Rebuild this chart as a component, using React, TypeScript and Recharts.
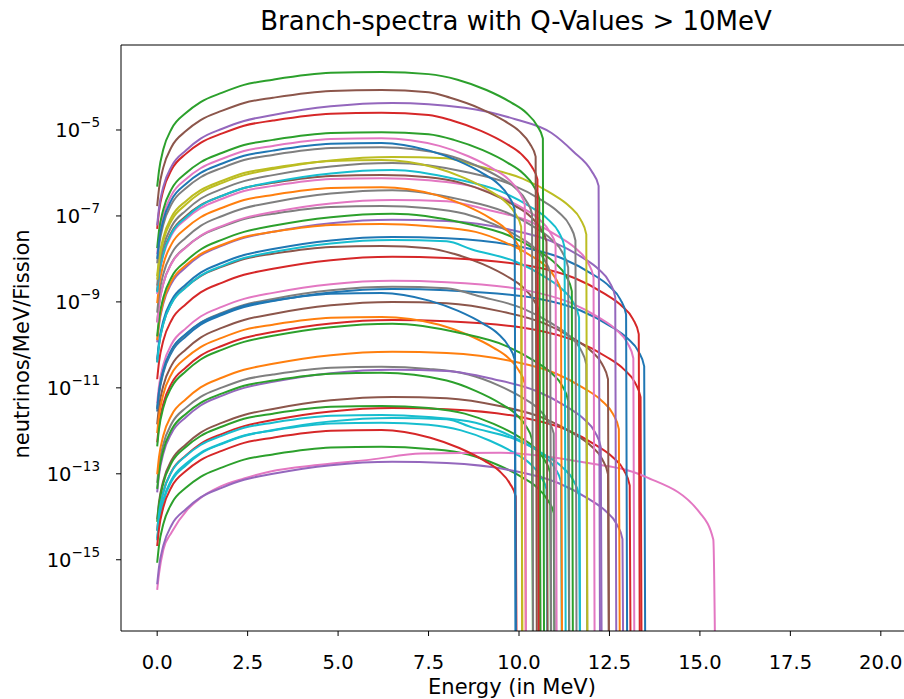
import React from 'react';
import { LineChart, Line, XAxis, YAxis, ReferenceLine } from 'recharts';

// each point: [energy in MeV, log10(neutrinos/MeV/Fission)]; -20 = spectrum ended
type Pt = [number, number];

const C = {
  blue: '#1f77b4', orange: '#ff7f0e', green: '#2ca02c', red: '#d62728', purple: '#9467bd',
  brown: '#8c564b', pink: '#e377c2', gray: '#7f7f7f', olive: '#bcbd22', cyan: '#17becf',
};

const xTicks = [0, 2.5, 5, 7.5, 10, 12.5, 15, 17.5, 20];
const yTicks = [1e-15, 1e-13, 1e-11, 1e-9, 1e-7, 1e-5];
const yDomain = [2.2e-17, 9.5e-4];

const br01: Pt[] = [[0,-6.32],[0.05,-5.95],[0.17,-5.45],[0.4,-4.97],[0.8,-4.6],[1.2,-4.35],[1.8,-4.13],[2.4,-3.95],[3.2,-3.83],[4.8,-3.67],[6.2,-3.65],[7.5,-3.7],[8.3,-3.83],[9.1,-4.07],[9.8,-4.37],[10.2,-4.6],[10.5,-4.9],[10.66,-5.2],[10.7,-20]];
const br02: Pt[] = [[0,-6.77],[0.05,-6.37],[0.17,-5.87],[0.4,-5.39],[0.8,-5.02],[1.2,-4.77],[1.8,-4.55],[2.4,-4.37],[3.2,-4.25],[4.8,-4.09],[6.2,-4.07],[7.5,-4.12],[8.1,-4.25],[8.9,-4.49],[9.6,-4.79],[10.0,-5.02],[10.3,-5.32],[10.46,-5.62],[10.5,-20]];
const br03: Pt[] = [[0,-7.22],[0.05,-6.82],[0.17,-6.32],[0.4,-5.84],[0.8,-5.47],[1.2,-5.2],[1.8,-4.97],[2.4,-4.79],[3.2,-4.65],[4.8,-4.45],[6.5,-4.37],[8.5,-4.48],[9.9,-4.75],[10.9,-5.07],[11.5,-5.5],[12.0,-5.95],[12.2,-6.3],[12.25,-20]];
const br04: Pt[] = [[0,-7.3],[0.05,-6.9],[0.17,-6.4],[0.4,-5.92],[0.8,-5.55],[1.2,-5.3],[1.8,-5.08],[2.4,-4.9],[3.2,-4.78],[4.8,-4.62],[6.2,-4.6],[7.5,-4.65],[8.15,-4.78],[8.95,-5.02],[9.65,-5.32],[10.05,-5.55],[10.35,-5.85],[10.51,-6.15],[10.55,-20]];
const br05: Pt[] = [[0,-7.75],[0.05,-7.35],[0.17,-6.85],[0.4,-6.37],[0.8,-6.0],[1.2,-5.75],[1.8,-5.53],[2.4,-5.35],[3.2,-5.23],[4.8,-5.07],[6.2,-5.05],[7.5,-5.1],[8.2,-5.23],[9.0,-5.47],[9.7,-5.77],[10.1,-6.0],[10.4,-6.3],[10.56,-6.6],[10.6,-20]];
const br06: Pt[] = [[0,-7.89],[0.05,-7.49],[0.17,-6.99],[0.4,-6.51],[0.8,-6.14],[1.2,-5.89],[1.8,-5.67],[2.4,-5.49],[3.2,-5.37],[4.8,-5.21],[6.2,-5.19],[7.8,-5.37],[8.6,-5.61],[9.3,-5.91],[9.7,-6.14],[10.0,-6.44],[10.16,-6.74],[10.2,-20]];
const br07: Pt[] = [[0,-8.0],[0.05,-7.6],[0.17,-7.1],[0.4,-6.62],[0.8,-6.25],[1.2,-6.0],[1.8,-5.78],[2.4,-5.6],[3.2,-5.48],[4.8,-5.32],[6.2,-5.3],[7.52,-5.48],[8.32,-5.72],[9.02,-6.02],[9.42,-6.25],[9.72,-6.55],[9.88,-6.85],[9.92,-20]];
const br08: Pt[] = [[0,-8.1],[0.05,-7.7],[0.17,-7.2],[0.4,-6.72],[0.8,-6.35],[1.2,-6.1],[1.8,-5.88],[2.4,-5.7],[3.2,-5.58],[4.8,-5.42],[6.2,-5.4],[8.0,-5.58],[8.8,-5.82],[9.5,-6.12],[9.9,-6.35],[10.2,-6.65],[10.36,-6.95],[10.4,-20]];
const br09: Pt[] = [[0,-8.48],[0.05,-8.08],[0.17,-7.58],[0.4,-7.1],[0.8,-6.73],[1.2,-6.46],[1.8,-6.23],[2.4,-6.05],[3.2,-5.91],[4.8,-5.71],[6.5,-5.63],[8.0,-5.66],[8.9,-5.85],[10.1,-6.13],[10.9,-6.48],[11.4,-6.78],[11.7,-7.08],[11.86,-7.43],[11.9,-20]];
const br10: Pt[] = [[0,-8.4],[0.05,-8.0],[0.17,-7.5],[0.4,-7.02],[0.8,-6.65],[1.2,-6.4],[1.8,-6.18],[2.4,-6.0],[3.2,-5.88],[4.8,-5.72],[6.2,-5.7],[7.7,-5.88],[8.5,-6.12],[9.2,-6.42],[9.6,-6.65],[9.9,-6.95],[10.06,-7.25],[10.1,-20]];
const br11: Pt[] = [[0,-8.62],[0.05,-8.22],[0.17,-7.72],[0.4,-7.24],[0.8,-6.87],[1.2,-6.6],[1.8,-6.37],[2.4,-6.19],[3.2,-6.05],[4.8,-5.85],[6.5,-5.77],[8.6,-5.99],[9.8,-6.27],[10.6,-6.62],[11.1,-6.92],[11.4,-7.22],[11.56,-7.57],[11.6,-20]];
const br12: Pt[] = [[0,-8.78],[0.05,-8.38],[0.17,-7.88],[0.4,-7.4],[0.8,-7.03],[1.2,-6.76],[1.8,-6.53],[2.4,-6.35],[3.2,-6.21],[4.8,-6.01],[6.5,-5.93],[8.3,-6.15],[9.5,-6.43],[10.3,-6.78],[10.8,-7.08],[11.1,-7.38],[11.26,-7.73],[11.3,-20]];
const br13: Pt[] = [[0,-8.75],[0.05,-8.35],[0.17,-7.85],[0.4,-7.37],[0.8,-7.0],[1.2,-6.75],[1.8,-6.53],[2.4,-6.35],[3.2,-6.23],[4.8,-6.07],[6.2,-6.05],[7.5,-6.1],[8.4,-6.23],[9.2,-6.47],[9.9,-6.77],[10.3,-7.0],[10.6,-7.3],[10.76,-7.6],[10.8,-20]];
const br14: Pt[] = [[0,-8.82],[0.05,-8.42],[0.17,-7.92],[0.4,-7.44],[0.8,-7.07],[1.2,-6.82],[1.8,-6.6],[2.4,-6.42],[3.2,-6.3],[4.8,-6.14],[6.2,-6.12],[7.5,-6.17],[8.65,-6.3],[9.45,-6.54],[10.15,-6.84],[10.55,-7.07],[10.85,-7.37],[11.01,-7.67],[11.05,-20]];
const br15: Pt[] = [[0,-9.03],[0.05,-8.63],[0.17,-8.13],[0.4,-7.65],[0.8,-7.28],[1.2,-7.03],[1.8,-6.81],[2.4,-6.63],[3.2,-6.51],[4.8,-6.35],[6.2,-6.33],[7.7,-6.51],[8.5,-6.75],[9.2,-7.05],[9.6,-7.28],[9.9,-7.58],[10.06,-7.88],[10.1,-20]];
const br16: Pt[] = [[0,-9.25],[0.05,-8.85],[0.17,-8.35],[0.4,-7.87],[0.8,-7.5],[1.2,-7.23],[1.8,-7.0],[2.4,-6.82],[3.2,-6.68],[4.8,-6.48],[6.5,-6.4],[8.4,-6.62],[9.6,-6.9],[10.4,-7.25],[10.9,-7.55],[11.2,-7.85],[11.36,-8.2],[11.4,-20]];
const br17: Pt[] = [[0,-9.48],[0.05,-9.08],[0.17,-8.58],[0.4,-8.1],[0.8,-7.73],[1.2,-7.46],[1.8,-7.23],[2.4,-7.05],[3.2,-6.91],[4.8,-6.71],[6.5,-6.63],[8.0,-6.66],[9.1,-6.85],[10.3,-7.13],[11.1,-7.48],[11.6,-7.78],[11.9,-8.08],[12.06,-8.43],[12.1,-20]];
const br18: Pt[] = [[0,-9.47],[0.05,-9.07],[0.17,-8.57],[0.4,-8.09],[0.8,-7.72],[1.2,-7.47],[1.8,-7.25],[2.4,-7.07],[3.2,-6.95],[4.8,-6.79],[6.2,-6.77],[7.5,-6.82],[8.5,-6.95],[9.3,-7.19],[10.0,-7.49],[10.4,-7.72],[10.7,-8.02],[10.86,-8.32],[10.9,-20]];
const br19: Pt[] = [[0,-9.8],[0.05,-9.4],[0.17,-8.9],[0.4,-8.42],[0.8,-8.05],[1.2,-7.78],[1.8,-7.55],[2.4,-7.37],[3.2,-7.23],[4.8,-7.03],[6.5,-6.95],[8.5,-7.17],[9.7,-7.45],[10.5,-7.8],[11.0,-8.1],[11.3,-8.4],[11.46,-8.75],[11.5,-20]];
const br20: Pt[] = [[0,-9.94],[0.05,-9.54],[0.17,-9.04],[0.4,-8.56],[0.8,-8.19],[1.2,-7.92],[1.8,-7.69],[2.4,-7.51],[3.2,-7.37],[4.8,-7.17],[6.5,-7.09],[8.0,-7.12],[9.7,-7.31],[10.9,-7.59],[11.7,-7.94],[12.2,-8.24],[12.5,-8.54],[12.66,-8.89],[12.7,-20]];
const br21: Pt[] = [[0,-9.89],[0.05,-9.49],[0.17,-8.99],[0.4,-8.51],[0.8,-8.14],[1.2,-7.89],[1.8,-7.67],[2.4,-7.49],[3.2,-7.37],[4.8,-7.21],[6.2,-7.19],[7.5,-7.24],[8.8,-7.37],[9.6,-7.61],[10.3,-7.91],[10.7,-8.14],[11.0,-8.44],[11.16,-8.74],[11.2,-20]];
const br22: Pt[] = [[0,-10.34],[0.05,-9.94],[0.17,-9.44],[0.4,-8.96],[0.8,-8.59],[1.2,-8.32],[1.8,-8.09],[2.4,-7.91],[3.2,-7.77],[4.8,-7.57],[6.5,-7.49],[8.0,-7.52],[10.0,-7.71],[11.2,-7.99],[12.0,-8.34],[12.5,-8.64],[12.8,-8.94],[12.96,-9.29],[13.0,-20]];
const br23: Pt[] = [[0,-10.41],[0.05,-10.01],[0.17,-9.51],[0.4,-9.03],[0.8,-8.66],[1.2,-8.39],[1.8,-8.16],[2.4,-7.98],[3.2,-7.84],[4.8,-7.64],[6.5,-7.56],[8.0,-7.59],[8.7,-7.78],[9.9,-8.06],[10.7,-8.41],[11.2,-8.71],[11.5,-9.01],[11.66,-9.36],[11.7,-20]];
const br24: Pt[] = [[0,-10.4],[0.05,-10.0],[0.17,-9.5],[0.4,-9.02],[0.8,-8.65],[1.2,-8.4],[1.8,-8.18],[2.4,-8.0],[3.2,-7.88],[4.8,-7.72],[6.2,-7.7],[7.5,-7.75],[8.2,-7.88],[9.0,-8.12],[9.7,-8.42],[10.1,-8.65],[10.4,-8.95],[10.56,-9.25],[10.6,-20]];
const br25: Pt[] = [[0,-10.8],[0.05,-10.4],[0.17,-9.9],[0.4,-9.42],[0.8,-9.05],[1.2,-8.78],[1.8,-8.55],[2.4,-8.37],[3.2,-8.23],[4.8,-8.03],[6.5,-7.95],[8.0,-7.98],[10.35,-8.17],[11.55,-8.45],[12.35,-8.8],[12.85,-9.1],[13.15,-9.4],[13.31,-9.75],[13.35,-20]];
const br26: Pt[] = [[0,-11.36],[0.05,-10.96],[0.17,-10.46],[0.4,-9.98],[0.8,-9.61],[1.2,-9.34],[1.8,-9.11],[2.4,-8.93],[3.2,-8.79],[4.8,-8.59],[6.5,-8.51],[8.0,-8.54],[10.2,-8.73],[11.4,-9.01],[12.2,-9.36],[12.7,-9.66],[13.0,-9.96],[13.16,-10.31],[13.2,-20]];
const br27: Pt[] = [[0,-11.5],[0.05,-11.1],[0.17,-10.6],[0.4,-10.12],[0.8,-9.75],[1.2,-9.48],[1.8,-9.25],[2.4,-9.07],[3.2,-8.93],[4.8,-8.73],[6.5,-8.65],[8.0,-8.68],[8.9,-8.87],[10.1,-9.15],[10.9,-9.5],[11.4,-9.8],[11.7,-10.1],[11.86,-10.45],[11.9,-20]];
const br28: Pt[] = [[0,-11.55],[0.05,-11.15],[0.17,-10.65],[0.4,-10.17],[0.8,-9.8],[1.2,-9.53],[1.8,-9.3],[2.4,-9.12],[3.2,-8.98],[4.8,-8.78],[6.5,-8.7],[8.0,-8.73],[10.5,-8.92],[11.7,-9.2],[12.5,-9.55],[13.0,-9.85],[13.3,-10.15],[13.46,-10.5],[13.5,-20]];
const br29: Pt[] = [[0,-11.49],[0.05,-11.09],[0.17,-10.59],[0.4,-10.11],[0.8,-9.74],[1.2,-9.49],[1.8,-9.27],[2.4,-9.09],[3.2,-8.97],[4.8,-8.81],[6.2,-8.79],[7.52,-8.97],[8.32,-9.21],[9.02,-9.51],[9.42,-9.74],[9.72,-10.04],[9.88,-10.34],[9.92,-20]];
const br30: Pt[] = [[0,-11.85],[0.05,-11.45],[0.17,-10.95],[0.4,-10.47],[0.8,-10.1],[1.2,-9.83],[1.8,-9.6],[2.4,-9.42],[3.2,-9.28],[4.8,-9.08],[6.5,-9.0],[8.0,-9.03],[9.5,-9.22],[10.7,-9.5],[11.5,-9.85],[12.0,-10.15],[12.3,-10.45],[12.46,-10.8],[12.5,-20]];
const br31: Pt[] = [[0,-12.05],[0.05,-11.65],[0.17,-11.15],[0.4,-10.67],[0.8,-10.3],[1.2,-10.05],[1.8,-9.83],[2.4,-9.65],[3.2,-9.53],[4.8,-9.37],[6.2,-9.35],[7.8,-9.53],[8.6,-9.77],[9.3,-10.07],[9.7,-10.3],[10.0,-10.6],[10.16,-10.9],[10.2,-20]];
const br32: Pt[] = [[0,-12.27],[0.05,-11.87],[0.17,-11.37],[0.4,-10.89],[0.8,-10.52],[1.2,-10.25],[1.8,-10.02],[2.4,-9.84],[3.2,-9.7],[4.8,-9.5],[6.5,-9.42],[8.0,-9.45],[10.4,-9.64],[11.6,-9.92],[12.4,-10.27],[12.9,-10.57],[13.2,-10.87],[13.36,-11.22],[13.4,-20]];
const br33: Pt[] = [[0,-12.36],[0.05,-11.96],[0.17,-11.46],[0.4,-10.98],[0.8,-10.61],[1.2,-10.34],[1.8,-10.11],[2.4,-9.93],[3.2,-9.79],[4.8,-9.59],[6.5,-9.51],[8.4,-9.73],[9.6,-10.01],[10.4,-10.36],[10.9,-10.66],[11.2,-10.96],[11.36,-11.31],[11.4,-20]];
const br34: Pt[] = [[0,-13.01],[0.05,-12.61],[0.17,-12.11],[0.4,-11.63],[0.8,-11.26],[1.2,-10.99],[1.8,-10.76],[2.4,-10.58],[3.2,-10.44],[4.8,-10.24],[6.5,-10.16],[8.0,-10.19],[9.8,-10.38],[11.0,-10.66],[11.8,-11.01],[12.3,-11.31],[12.6,-11.61],[12.76,-11.96],[12.8,-20]];
const br35: Pt[] = [[0,-13.21],[0.05,-12.81],[0.17,-12.31],[0.4,-11.83],[0.8,-11.46],[1.2,-11.21],[1.8,-10.99],[2.4,-10.81],[3.2,-10.69],[4.8,-10.53],[6.2,-10.51],[7.5,-10.56],[8.6,-10.69],[9.4,-10.93],[10.1,-11.23],[10.5,-11.46],[10.8,-11.76],[10.96,-12.06],[11.0,-20]];
const br36: Pt[] = [[0,-13.43],[0.05,-13.03],[0.17,-12.53],[0.4,-12.05],[0.8,-11.68],[1.2,-11.41],[1.8,-11.18],[2.4,-11.0],[3.2,-10.86],[4.8,-10.66],[6.5,-10.58],[8.0,-10.61],[9.3,-10.8],[10.5,-11.08],[11.3,-11.43],[11.8,-11.73],[12.1,-12.03],[12.26,-12.38],[12.3,-20]];
const br37: Pt[] = [[0,-13.35],[0.05,-12.95],[0.17,-12.45],[0.4,-11.97],[0.8,-11.6],[1.2,-11.35],[1.8,-11.13],[2.4,-10.95],[3.2,-10.83],[4.8,-10.67],[6.2,-10.65],[8.0,-10.83],[8.8,-11.07],[9.5,-11.37],[9.9,-11.6],[10.2,-11.9],[10.36,-12.2],[10.4,-20]];
const br38: Pt[] = [[0,-14.06],[0.05,-13.66],[0.17,-13.16],[0.4,-12.68],[0.8,-12.31],[1.2,-12.04],[1.8,-11.81],[2.4,-11.63],[3.2,-11.49],[4.8,-11.29],[6.5,-11.21],[8.0,-11.24],[9.5,-11.43],[10.7,-11.71],[11.5,-12.06],[12.0,-12.36],[12.3,-12.66],[12.46,-13.01],[12.5,-20]];
const br39: Pt[] = [[0,-14.12],[0.05,-13.72],[0.17,-13.22],[0.4,-12.74],[0.8,-12.37],[1.2,-12.12],[1.8,-11.9],[2.4,-11.72],[3.2,-11.6],[4.8,-11.44],[6.2,-11.42],[7.5,-11.47],[8.5,-11.6],[9.3,-11.84],[10.0,-12.14],[10.4,-12.37],[10.7,-12.67],[10.86,-12.97],[10.9,-20]];
const br40: Pt[] = [[0,-14.32],[0.05,-13.92],[0.17,-13.42],[0.4,-12.94],[0.8,-12.57],[1.2,-12.3],[1.8,-12.07],[2.4,-11.89],[3.2,-11.75],[4.8,-11.55],[6.5,-11.47],[8.0,-11.5],[10.1,-11.69],[11.3,-11.97],[12.1,-12.32],[12.6,-12.62],[12.9,-12.92],[13.06,-13.27],[13.1,-20]];
const br41: Pt[] = [[0,-14.33],[0.05,-13.93],[0.17,-13.43],[0.4,-12.95],[0.8,-12.58],[1.2,-12.33],[1.8,-12.11],[2.4,-11.93],[3.2,-11.81],[4.8,-11.65],[6.2,-11.63],[7.5,-11.68],[8.8,-11.81],[9.6,-12.05],[10.3,-12.35],[10.7,-12.58],[11.0,-12.88],[11.16,-13.18],[11.2,-20]];
const br42: Pt[] = [[0,-14.55],[0.05,-14.15],[0.17,-13.65],[0.4,-13.17],[0.8,-12.8],[1.2,-12.53],[1.8,-12.3],[2.4,-12.12],[3.2,-11.98],[4.8,-11.78],[6.5,-11.7],[8.0,-11.73],[8.7,-11.92],[9.9,-12.2],[10.7,-12.55],[11.2,-12.85],[11.5,-13.15],[11.66,-13.5],[11.7,-20]];
const br43: Pt[] = [[0,-14.51],[0.05,-14.11],[0.17,-13.61],[0.4,-13.13],[0.8,-12.76],[1.2,-12.51],[1.8,-12.29],[2.4,-12.11],[3.2,-11.99],[4.8,-11.83],[6.2,-11.81],[7.5,-11.86],[8.4,-11.99],[9.2,-12.23],[9.9,-12.53],[10.3,-12.76],[10.6,-13.06],[10.76,-13.36],[10.8,-20]];
const br44: Pt[] = [[0,-14.68],[0.05,-14.28],[0.17,-13.78],[0.4,-13.3],[0.8,-12.93],[1.2,-12.68],[1.8,-12.46],[2.4,-12.28],[3.2,-12.16],[4.8,-12.0],[6.2,-11.98],[7.55,-12.16],[8.35,-12.4],[9.05,-12.7],[9.45,-12.93],[9.75,-13.23],[9.91,-13.53],[9.95,-20]];
const br45: Pt[] = [[0,-15.07],[0.05,-14.67],[0.17,-14.17],[0.4,-13.69],[0.8,-13.32],[1.2,-13.07],[1.8,-12.85],[2.4,-12.67],[3.2,-12.55],[4.8,-12.39],[6.2,-12.37],[7.5,-12.42],[8.6,-12.55],[9.4,-12.79],[10.1,-13.09],[10.5,-13.32],[10.8,-13.62],[10.96,-13.92],[11.0,-20]];
const br46: Pt[] = [[0,-15.7],[0.05,-15.33],[0.17,-14.77],[0.4,-14.36],[0.83,-13.84],[1.2,-13.56],[1.74,-13.3],[2.4,-13.11],[3.1,-12.95],[4.5,-12.79],[5.9,-12.67],[7.3,-12.53],[9.5,-12.51],[11.7,-12.72],[13.5,-13.07],[15.0,-13.91],[15.37,-14.53],[15.45,-20]];
const br47: Pt[] = [[0,-15.57],[0.05,-15.17],[0.17,-14.67],[0.4,-14.19],[0.8,-13.82],[1.2,-13.55],[1.8,-13.32],[2.4,-13.14],[3.2,-13.0],[4.8,-12.8],[6.5,-12.72],[8.0,-12.75],[9.9,-12.94],[11.1,-13.22],[11.9,-13.57],[12.4,-13.87],[12.7,-14.17],[12.86,-14.52],[12.9,-20]];

const branches: [string, Pt[]][] = [
  [C.brown, br24], [C.blue, br28], [C.red, br32], [C.cyan, br43], [C.green, br45],
  [C.pink, br46], [C.purple, br47], [C.red, br40], [C.brown, br38], [C.green, br39],
  [C.cyan, br41], [C.cyan, br42], [C.red, br44], [C.gray, br35], [C.purple, br36],
  [C.green, br37], [C.orange, br34], [C.brown, br30], [C.orange, br31], [C.green, br33],
  [C.pink, br26], [C.gray, br27], [C.red, br25], [C.blue, br22], [C.cyan, br23],
  [C.purple, br20], [C.orange, br21], [C.green, br19], [C.gray, br18], [C.pink, br17],
  [C.gray, br16], [C.orange, br15], [C.pink, br14], [C.brown, br13], [C.cyan, br12],
  [C.gray, br11], [C.olive, br10], [C.olive, br09], [C.gray, br08], [C.pink, br06],
  [C.green, br05], [C.red, br04], [C.purple, br03], [C.brown, br02], [C.green, br01],
  [C.blue, br07], [C.blue, br29],
];

const FONT = 'DejaVu Sans, sans-serif';

function PowTick(props: any) {
  const { x, y, payload } = props;
  const exp = Math.round(Math.log10(payload.value));
  return (
    <text x={x} y={y} textAnchor="end" fontFamily={FONT} fill="#000">
      <tspan fontSize={19.5} dy={7}>10</tspan>
      <tspan fontSize={13.5} dy={-10}>{'\u2212' + Math.abs(exp)}</tspan>
    </text>
  );
}

function EnergyTick(props: any) {
  const { x, y, payload } = props;
  return (
    <text x={x} y={y} dy={31} textAnchor="middle" fontFamily={FONT} fontSize={19.5} fill="#000">
      {payload.value.toFixed(1)}
    </text>
  );
}

export default function App() {
  return (
    <div style={{ position: 'absolute', left: 0, top: 0, width: 904, height: 699, overflow: 'hidden', background: '#fff', fontFamily: FONT }}>
      <div style={{ position: 'absolute', left: 516, top: 21, transform: 'translate(-50%, -50%)', fontSize: 26, whiteSpace: 'nowrap' }}>
        Branch-spectra with Q-Values &gt; 10MeV
      </div>
      <div style={{ position: 'absolute', left: 512, top: 687, transform: 'translate(-50%, -50%)', fontSize: 21, whiteSpace: 'nowrap' }}>
        Energy (in MeV)
      </div>
      <div style={{ position: 'absolute', left: 22, top: 344, transform: 'translate(-50%, -50%) rotate(-90deg)', fontSize: 21, whiteSpace: 'nowrap' }}>
        neutrinos/MeV/Fission
      </div>
      <LineChart width={930} height={699} margin={{ top: 45, right: 13, bottom: 0, left: 0 }}>
        <XAxis
          dataKey="e" type="number" domain={[-1, 21]} ticks={xTicks} allowDataOverflow
          height={68} tickSize={5} tickMargin={2} tick={<EnergyTick />}
          axisLine={{ stroke: '#000' }} tickLine={{ stroke: '#000' }}
        />
        <YAxis
          scale="log" type="number" domain={yDomain} ticks={yTicks} allowDataOverflow
          width={121} tickSize={5} tickMargin={16} tick={<PowTick />}
          axisLine={{ stroke: '#000' }} tickLine={{ stroke: '#000' }}
        />
        <ReferenceLine y={yDomain[1]} stroke="#000" />
        {branches.map(([color, pts], i) => (
          <Line
            key={i}
            data={pts.map(([e, l]) => ({ e, v: Math.pow(10, l) }))}
            dataKey="v"
            type="monotone"
            stroke={color}
            strokeWidth={2}
            dot={false}
            activeDot={false}
            isAnimationActive={false}
          />
        ))}
      </LineChart>
    </div>
  );
}
